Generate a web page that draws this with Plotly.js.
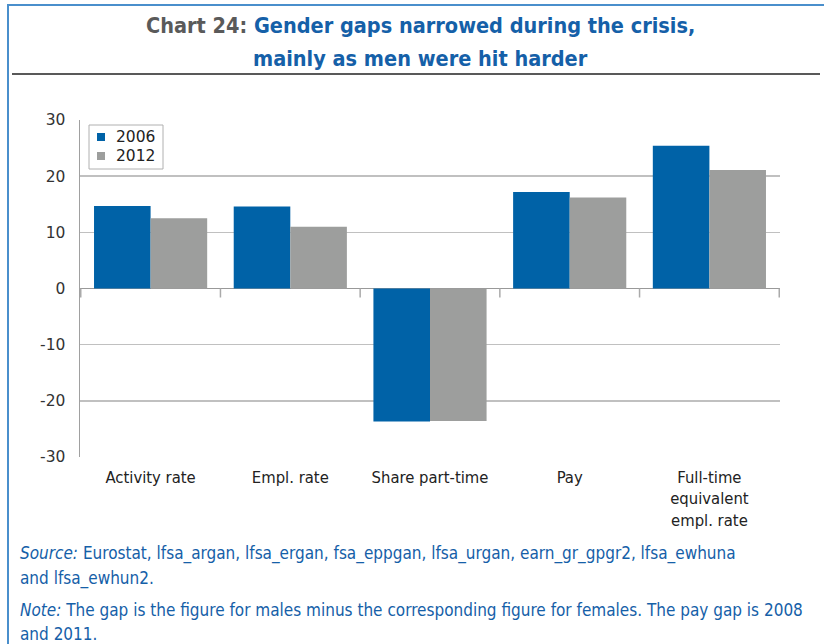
<!DOCTYPE html>
<html>
<head>
<meta charset="utf-8">
<script src="https://cdn.plot.ly/plotly-3.0.1.min.js"></script>
<style>html,body{margin:0;padding:0;background:#fff;}#chart{width:824px;height:644px;}</style>
</head>
<body>
<div id="chart"></div>
<script>
var categories = ["Activity rate", "Empl. rate", "Share part-time", "Pay", "Full-time<br>equivalent<br>empl. rate"];
var seriesNames = ["2006", "2012"];
var series2006 = [14.7, 14.6, -23.7, 17.2, 25.4];
var series2012 = [12.5, 11.0, -23.6, 16.2, 21.1];
var yTicks = [-30, -20, -10, 0, 10, 20, 30];

var W = 824, H = 644, ML = 80, MR = 44, MT = 120, MB = 187;
var PW = W - ML - MR, PH = H - MT - MB;
function px(x) { return (x - ML) / PW; }
function py(y) { return (H - MB - y) / PH; }

var NARROW = '"DejaVu Sans Condensed", "Liberation Sans Narrow", sans-serif';
var COLORS = ['#0062a7', '#9d9e9d'];
var TXTBLUE = '#1560a8';

var traces = [
  {type: 'bar', name: seriesNames[0], x: categories, y: series2006, marker: {color: COLORS[0]}},
  {type: 'bar', name: seriesNames[1], x: categories, y: series2012, marker: {color: COLORS[1]}}
];

var shapes = [
  {type: 'line', xref: 'paper', yref: 'paper', x0: px(8), x1: px(8), y0: py(4), y1: py(650), line: {color: '#4a8fcc', width: 2}},
  {type: 'line', xref: 'paper', yref: 'paper', x0: px(7), x1: px(830), y0: py(5), y1: py(5), line: {color: '#4a8fcc', width: 2}},
  {type: 'line', xref: 'paper', yref: 'paper', x0: px(12), x1: px(820), y0: py(74), y1: py(74), line: {color: '#222', width: 1.5}},
  // legend box
  {type: 'rect', xref: 'paper', yref: 'paper', x0: px(89), x1: px(163), y0: py(125), y1: py(169), line: {color: '#b0b0b0', width: 1}, fillcolor: '#fff'}
];
for (var i = 0; i <= categories.length; i++) {
  shapes.push({type: 'line', xref: 'x', yref: 'y', ysizemode: 'pixel', yanchor: 0,
    x0: i - 0.5, x1: i - 0.5, y0: 0, y1: -9, line: {color: '#aaa', width: 1.5}});
}

var annotations = [
  {xref: 'paper', yref: 'paper', x: px(420), y: py(26), xanchor: 'center', yanchor: 'middle', showarrow: false,
   text: '<span style="color:#5a5a5a">Chart 24:</span> Gender gaps narrowed during the crisis,',
   font: {family: NARROW, size: 21.5, color: TXTBLUE, weight: 'bold'}},
  {xref: 'paper', yref: 'paper', x: px(420), y: py(58), xanchor: 'center', yanchor: 'middle', showarrow: false,
   text: 'mainly as men were hit harder',
   font: {family: NARROW, size: 21.5, color: TXTBLUE, weight: 'bold'}},
  {xref: 'paper', yref: 'paper', x: px(18), y: py(553), xanchor: 'left', yanchor: 'middle', showarrow: false,
   text: '<i>Source:</i> Eurostat, lfsa_argan, lfsa_ergan, fsa_eppgan, lfsa_urgan, earn_gr_gpgr2, lfsa_ewhuna',
   font: {family: NARROW, size: 17, color: TXTBLUE}},
  {xref: 'paper', yref: 'paper', x: px(18), y: py(578), xanchor: 'left', yanchor: 'middle', showarrow: false,
   text: 'and lfsa_ewhun2.',
   font: {family: NARROW, size: 17, color: TXTBLUE}},
  {xref: 'paper', yref: 'paper', x: px(18), y: py(610), xanchor: 'left', yanchor: 'middle', showarrow: false,
   text: '<i>Note:</i> The gap is the figure for males minus the corresponding figure for females. The pay gap is 2008',
   font: {family: NARROW, size: 17, color: TXTBLUE}},
  {xref: 'paper', yref: 'paper', x: px(18), y: py(634), xanchor: 'left', yanchor: 'middle', showarrow: false,
   text: 'and 2011.',
   font: {family: NARROW, size: 17, color: TXTBLUE}}
];

// custom legend entries
for (var k = 0; k < seriesNames.length; k++) {
  var cy = 137 + k * 19;
  shapes.push({type: 'rect', xref: 'paper', yref: 'paper', x0: px(97), x1: px(105), y0: py(cy - 4), y1: py(cy + 4),
    line: {width: 0}, fillcolor: COLORS[k]});
  annotations.push({xref: 'paper', yref: 'paper', x: px(114), y: py(cy), xanchor: 'left', yanchor: 'middle', showarrow: false,
    text: seriesNames[k], font: {family: 'DejaVu Sans', size: 15.5, color: '#222'}});
}

var layout = {
  width: W, height: H,
  margin: {l: ML, r: MR, t: MT, b: MB, pad: 0},
  paper_bgcolor: '#fff', plot_bgcolor: '#fff',
  barmode: 'group', bargap: 0.19, bargroupgap: 0,
  showlegend: false,
  xaxis: {type: 'category', showgrid: false, zeroline: false, showline: false,
    ticks: 'outside', ticklen: 5, tickcolor: 'rgba(0,0,0,0)',
    tickfont: {family: NARROW, size: 16.5, color: '#222'}, fixedrange: true},
  yaxis: {range: [-30, 30], tickvals: yTicks, ticktext: yTicks.map(String),
    showgrid: true, gridcolor: '#c0c0c0', gridwidth: 1.5,
    zeroline: true, zerolinecolor: '#999', zerolinewidth: 1.5,
    showline: true, linecolor: '#a0a0a0', linewidth: 1.5,
    ticks: 'outside', ticklen: 10, tickcolor: 'rgba(0,0,0,0)',
    tickfont: {family: 'DejaVu Sans', size: 15.5, color: '#333'}, fixedrange: true},
  shapes: shapes,
  annotations: annotations
};

Plotly.newPlot('chart', traces, layout, {displayModeBar: false, staticPlot: true});
</script>
</body>
</html>
